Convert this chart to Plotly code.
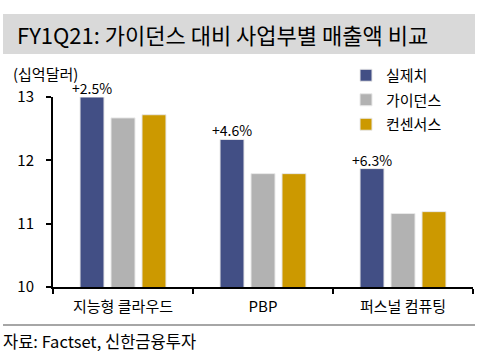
import plotly.graph_objects as go

categories = ["지능형 클라우드", "PBP", "퍼스널 컴퓨팅"]
actual = [13.00, 12.33, 11.87]
guidance = [12.67, 11.79, 11.16]
consensus = [12.72, 11.79, 11.19]
surprise_labels = ["+2.5%", "+4.6%", "+6.3%"]
series_names = ["실제치", "가이던스", "컨센서스"]
colors = ["#424F85", "#B2B2B2", "#CC9900"]
y_ticks = [10, 11, 12, 13]

FONT = "Noto Sans CJK KR"

fig = go.Figure()
for name, vals, col in zip(series_names, [actual, guidance, consensus], colors):
    fig.add_trace(go.Bar(
        name=name, x=categories, y=vals, legendgroup=name,
        marker=dict(color=col, line=dict(color="#E8E8E8", width=1)),
    ))

# percentage labels above the actual bars
for i, (cat, v, lab) in enumerate(zip(categories, actual, surprise_labels)):
    fig.add_annotation(
        x=cat, y=v, text=lab, showarrow=False, yanchor="bottom",
        xshift=-31, yshift=-3, font=dict(family=FONT, size=14, color="black"),
    )

L, R, T, B = 53, 10, 97, 75
W, H = 483, 362
pw, ph = W - L - R, H - T - B

def px_x(px):
    return (px - L) / pw

def px_y(py):
    return (H - B - py) / ph

# title band
fig.add_shape(type="rect", xref="paper", yref="paper",
              x0=px_x(3), x1=px_x(475), y0=px_y(54), y1=px_y(14),
              fillcolor="#D9D9D9", line=dict(width=0), layer="below")
fig.add_annotation(xref="paper", yref="paper", x=px_x(15), y=px_y(34),
                   xanchor="left", yanchor="middle", showarrow=False,
                   text="FY1Q21: 가이던스 대비 사업부별 매출액 비교",
                   font=dict(family=FONT, size=22, color="black"))
# unit label
fig.add_annotation(xref="paper", yref="paper", x=px_x(11), y=px_y(73),
                   xanchor="left", yanchor="middle", showarrow=False,
                   text="(십억달러)", font=dict(family=FONT, size=15, color="black"))
# bottom rule and source
fig.add_shape(type="line", xref="paper", yref="paper",
              x0=px_x(3), x1=px_x(475), y0=px_y(325), y1=px_y(325),
              line=dict(color="#A6A6A6", width=2))
fig.add_annotation(xref="paper", yref="paper", x=px_x(1), y=px_y(341),
                   xanchor="left", yanchor="middle", showarrow=False,
                   text="자료: Factset, 신한금융투자",
                   font=dict(family=FONT, size=16.5, color="black"))

fig.update_layout(
    width=W, height=H,
    margin=dict(l=L, r=R, t=T, b=B),
    paper_bgcolor="white", plot_bgcolor="white",
    barmode="group", bargap=0.336, bargroupgap=0.226,
    font=dict(family=FONT, size=14, color="black"),
    showlegend=True,
    legend=dict(x=px_x(346), y=px_y(59), xanchor="left", yanchor="top",
                font=dict(family=FONT, size=15, color="black"),
                itemwidth=30, tracegroupgap=2, bgcolor="rgba(0,0,0,0)"),
    xaxis=dict(showline=True, linecolor="black", linewidth=2,
               ticks="outside", tickson="boundaries", ticklen=5,
               tickcolor="black", tickwidth=2, ticklabelstandoff=5,
               tickfont=dict(family=FONT, size=15, color="black")),
    yaxis=dict(range=[10, 13], tickvals=y_ticks, showgrid=False,
               showline=True, linecolor="black", linewidth=2,
               ticks="outside", ticklen=5, tickcolor="black", tickwidth=2,
               zeroline=False, ticklabelstandoff=9,
               tickfont=dict(family=FONT, size=15, color="black")),
)

fig.write_html("out.html", config={"displayModeBar": False},
               post_script="document.body.style.margin='0';")
